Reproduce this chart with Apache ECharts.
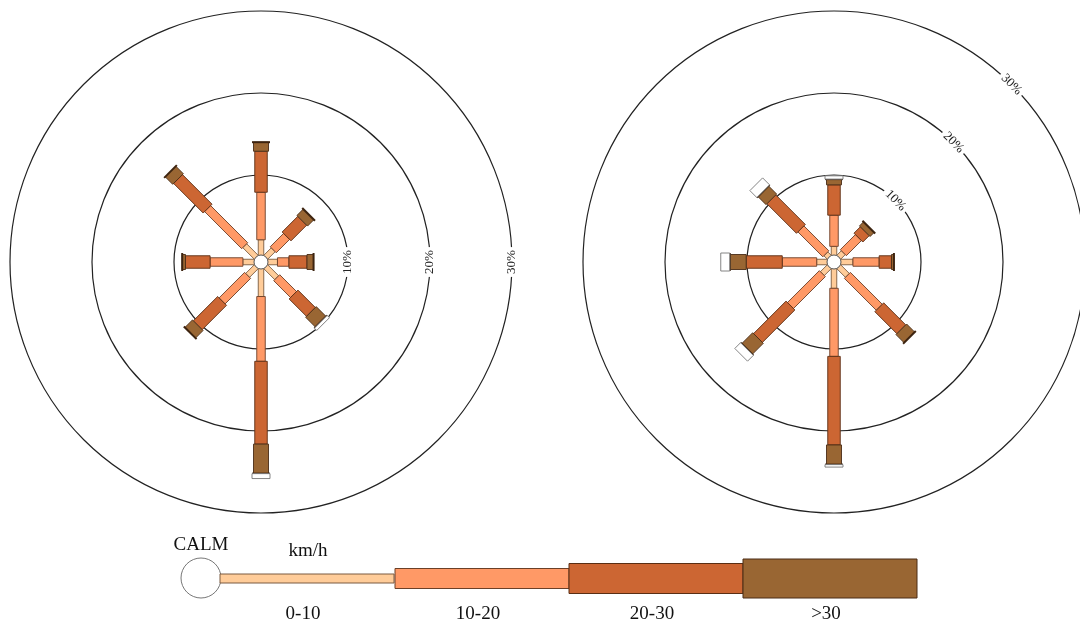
<!DOCTYPE html>
<html>
<head>
<meta charset="utf-8">
<script src="https://cdn.jsdelivr.net/npm/echarts@6/dist/echarts.min.js"></script>
<style>
  html, body { margin: 0; padding: 0; background: #fff; }
  #chart { width: 1080px; height: 628px; }
</style>
</head>
<body>
<div id="chart"></div>
<script>
// directions, clockwise from north (angle in degrees)
let directions = ['N', 'NE', 'E', 'SE', 'S', 'SW', 'W', 'NW']
let dirAngles = [0, 45, 90, 135, 180, 225, 270, 315]
let speedClasses = ['0-10', '10-20', '20-30', '>30']
let ringTicks = [10, 20, 30]
let ringLabels = ['10%', '20%', '30%']

// frequency (%) per direction, left rose
let left0to10 = [2.1, 1.5, 1.4, 2.1, 3.6, 1.7, 1.6, 2.2]
let left10to20 = [5.8, 2.3, 1.4, 2.9, 7.9, 4.4, 4.0, 6.4]
let left20to30 = [5.0, 2.7, 2.2, 3.0, 10.1, 4.2, 3.0, 5.1]
let leftOver30 = [1.1, 1.1, 0.8, 1.7, 3.6, 1.3, 0.4, 1.3]
let leftTail = [0, 0, 0, 0.4, 0.6, 0, 0, 0]

// frequency (%) per direction, right rose
let right0to10 = [1.3, 1.0, 1.7, 1.7, 2.6, 1.4, 1.5, 0.8]
let right10to20 = [3.8, 2.6, 3.2, 5.5, 8.3, 5.5, 4.2, 4.3]
let right20to30 = [3.7, 1.1, 1.5, 3.8, 10.8, 5.6, 4.4, 5.1]
let rightOver30 = [0.7, 0.7, 0.3, 1.4, 2.4, 1.9, 2.0, 1.4]
let rightTail = [0.4, 0, 0, 0, 0.3, 1.0, 1.1, 1.2]

let colors = ['#FFCC99', '#FF9966', '#CC6633', '#996633', '#ffffff']
let widths = [5.5, 8.5, 12.5, 15, 18]
let strokes = ['#7a5a40', '#6b4028', '#5a2e14', '#4a2c16', '#777777']
let serif = '"Liberation Serif", "DejaVu Serif", serif'

// stack the classes outward: rows are [end, angle, start]
function stackRows(classes) {
  let rows = classes.map(() => [])
  dirAngles.forEach((ang, d) => {
    let acc = 0
    classes.forEach((arr, c) => {
      rows[c].push([acc + arr[d], ang, acc])
      acc += arr[d]
    })
  })
  return rows
}

function barRenderer(c) {
  return function (params, api) {
    let end = api.value(0), ang = api.value(1), start = api.value(2)
    if (end - start <= 0) return
    let cs = params.coordSys
    let p0 = api.coord([start, ang])
    let p1 = api.coord([end, ang])
    let far = api.coord([30, ang])
    let vx = far[0] - cs.cx, vy = far[1] - cs.cy
    let len = Math.sqrt(vx * vx + vy * vy)
    let ux = vx / len, uy = vy / len
    let nx = -uy, ny = ux
    let h = widths[c] / 2
    let pts = [
      [p0[0] + nx * h, p0[1] + ny * h],
      [p1[0] + nx * h, p1[1] + ny * h],
      [p1[0] - nx * h, p1[1] - ny * h],
      [p0[0] - nx * h, p0[1] - ny * h]
    ]
    let children = [{
      type: 'polygon',
      shape: { points: pts },
      style: { fill: colors[c], stroke: strokes[c], lineWidth: 0.9 }
    }]
    if (c === 3) {
      let e = h + 1.5
      children.push({
        type: 'line',
        shape: { x1: p1[0] + nx * e, y1: p1[1] + ny * e, x2: p1[0] - nx * e, y2: p1[1] - ny * e },
        style: { stroke: '#3d2410', lineWidth: 2 }
      })
    }
    return { type: 'group', children: children }
  }
}

function calmRenderer(params) {
  let cs = params.coordSys
  return {
    type: 'circle',
    shape: { cx: cs.cx, cy: cs.cy, r: 7 },
    style: { fill: '#fff', stroke: '#555', lineWidth: 1 }
  }
}

function labelRenderer(rot) {
  return function (params, api) {
    let p = api.coord([api.value(0), api.value(1)])
    return {
      type: 'text',
      x: p[0], y: p[1], rotation: rot,
      style: {
        text: ringLabels[params.dataIndex],
        font: '13px ' + serif,
        fill: '#222',
        align: 'center',
        verticalAlign: 'middle',
        backgroundColor: '#fff',
        padding: [1, 3]
      },
      z2: 10
    }
  }
}

function roseSeries(polarIndex, classes, labelAngle, labelRot) {
  let rows = stackRows(classes)
  let list = rows.map((data, c) => ({
    type: 'custom',
    coordinateSystem: 'polar',
    polarIndex: polarIndex,
    name: c < 4 ? speedClasses[c] : 'tail',
    renderItem: barRenderer(c),
    data: data,
    silent: true
  }))
  list.push({
    type: 'custom', coordinateSystem: 'polar', polarIndex: polarIndex,
    renderItem: calmRenderer, data: [[0, 0]], silent: true
  })
  list.push({
    type: 'custom', coordinateSystem: 'polar', polarIndex: polarIndex,
    renderItem: labelRenderer(labelRot),
    data: ringTicks.map(t => [t, labelAngle]), silent: true
  })
  return list
}

function radiusAxis(i) {
  return {
    polarIndex: i, type: 'value', min: 0, max: 30, interval: 10,
    axisLine: { show: false }, axisTick: { show: false }, axisLabel: { show: false },
    splitLine: { show: true, lineStyle: { color: '#222', width: 1.2 } }
  }
}
function angleAxis(i) {
  return {
    polarIndex: i, type: 'value', min: 0, max: 360, startAngle: 90, clockwise: true,
    axisLine: { show: false }, axisTick: { show: false }, axisLabel: { show: false },
    splitLine: { show: false }
  }
}

// legend bars (key), drawn as graphics
let keyX = [220, 395, 569, 743]
let keyW = 174
let keyH = [9, 20, 30, 39]
let legendGraphics = [
  { type: 'circle', shape: { cx: 201, cy: 578, r: 20 }, style: { fill: '#fff', stroke: '#777', lineWidth: 1 } },
  { type: 'text', x: 201, y: 545, style: { text: 'CALM', font: '19px ' + serif, fill: '#111', align: 'center', verticalAlign: 'middle' } },
  { type: 'text', x: 308, y: 551, style: { text: 'km/h', font: '19px ' + serif, fill: '#111', align: 'center', verticalAlign: 'middle' } }
]
speedClasses.forEach((s, i) => {
  legendGraphics.push({
    type: 'rect',
    shape: { x: keyX[i], y: 578.5 - keyH[i] / 2, width: keyW, height: keyH[i] },
    style: { fill: colors[i], stroke: strokes[i], lineWidth: 1 }
  })
  legendGraphics.push({
    type: 'text', x: keyX[i] + keyW / 2 - 4, y: 614,
    style: { text: s, font: '19px ' + serif, fill: '#111', align: 'center', verticalAlign: 'middle' }
  })
})

let option = {
  backgroundColor: '#fff',
  animation: false,
  polar: [
    { center: [261, 262], radius: [5, 251] },
    { center: [834, 262], radius: [5, 251] }
  ],
  radiusAxis: [radiusAxis(0), radiusAxis(1)],
  angleAxis: [angleAxis(0), angleAxis(1)],
  graphic: legendGraphics,
  series: []
    .concat(roseSeries(0, [left0to10, left10to20, left20to30, leftOver30, leftTail], 90, Math.PI / 2))
    .concat(roseSeries(1, [right0to10, right10to20, right20to30, rightOver30, rightTail], 45, -Math.PI / 4))
}

let chartsInstance = echarts.init(document.getElementById('chart'))
chartsInstance.setOption(option)
</script>
</body>
</html>
